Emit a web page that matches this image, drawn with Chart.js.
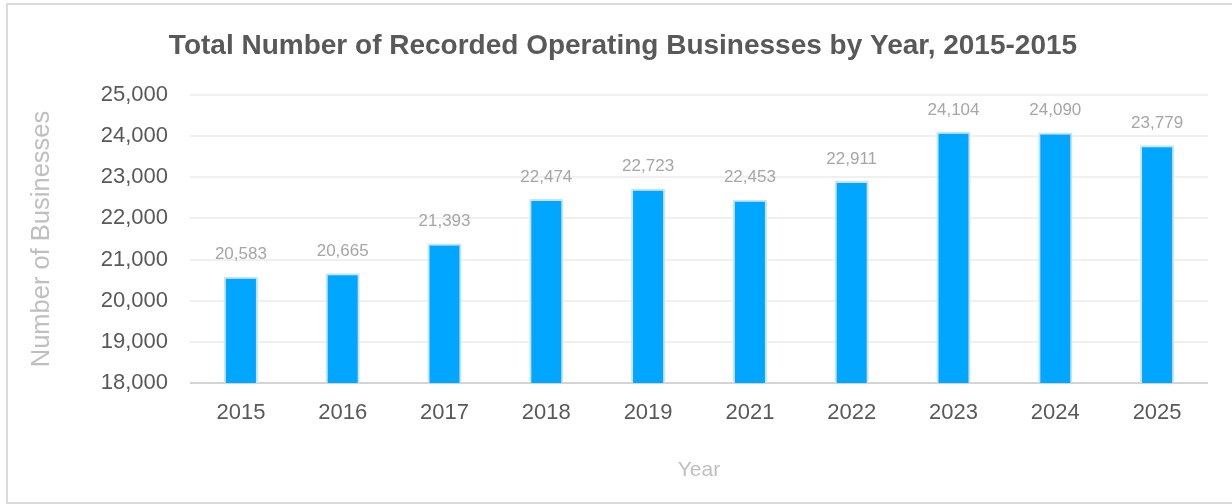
<!DOCTYPE html>
<html>
<head>
<meta charset="utf-8">
<script src="https://cdn.jsdelivr.net/npm/chart.js@4.4.1/dist/chart.umd.min.js"></script>
<style>
  html, body { margin: 0; padding: 0; background: #ffffff; overflow: hidden; }
  body { width: 1232px; height: 504px; position: relative; }
  #wrap { position: absolute; left: 0; top: 0; width: 1232px; height: 504px; }
  #frame { position: absolute; left: 6px; top: 3px; width: 1240px; height: 501px;
           border: 2px solid #dadada; border-right: none; box-sizing: border-box; pointer-events: none; }
</style>
</head>
<body>
<div id="wrap"><canvas id="c" width="1232" height="504"></canvas></div>
<div id="frame"></div>
<script>
const chartTitle = "Total Number of Recorded Operating Businesses by Year, 2015-2015";
const xTitle = "Year";
const yTitle = "Number of Businesses";
const years = ["2015", "2016", "2017", "2018", "2019", "2021", "2022", "2023", "2024", "2025"];
const businesses = [20583, 20665, 21393, 22474, 22723, 22453, 22911, 24104, 24090, 23779];
const yMin = 18000;
const yMax = 25000;
const yStep = 1000;

const FONT = "'Liberation Sans', Arial, sans-serif";
const fmt = v => Number(v).toLocaleString('en-US');

const titlePlugin = {
  id: 'customTitle',
  afterDraw(chart) {
    const ctx = chart.ctx;
    ctx.save();
    ctx.font = "bold 28px " + FONT;
    ctx.fillStyle = '#595959';
    ctx.textAlign = 'center';
    ctx.textBaseline = 'middle';
    ctx.fillText(chartTitle, 623, 46);
    ctx.restore();
  }
};

const labelPlugin = {
  id: 'barLabels',
  afterDatasetsDraw(chart) {
    const ctx = chart.ctx;
    const meta = chart.getDatasetMeta(0);
    ctx.save();
    ctx.font = "17px " + FONT;
    ctx.fillStyle = '#a6a6a6';
    ctx.textAlign = 'center';
    ctx.textBaseline = 'middle';
    meta.data.forEach((bar, i) => {
      ctx.fillText(fmt(businesses[i]), bar.x, bar.y - 22);
    });
    ctx.restore();
  }
};

new Chart(document.getElementById('c'), {
  type: 'bar',
  data: {
    labels: years,
    datasets: [{
      data: businesses,
      backgroundColor: '#00a6ff',
      borderColor: '#c8e4fa',
      borderWidth: 2,
      borderSkipped: 'start',
      categoryPercentage: 1.0,
      barPercentage: 0.335
    }]
  },
  options: {
    responsive: false,
    animation: false,
    devicePixelRatio: 1,
    layout: { padding: { left: 0, right: 24, top: 95, bottom: 0 } },
    plugins: {
      legend: { display: false },
      title: { display: false },
      tooltip: { enabled: false }
    },
    scales: {
      x: {
        grid: { display: false, drawTicks: false },
        border: { display: false },
        ticks: { color: '#595959', font: { family: FONT, size: 22 }, padding: 17, maxRotation: 0 },
        title: { display: true, text: xTitle, color: '#bfbfbf',
                 font: { family: FONT, size: 21 }, padding: { top: 0, bottom: 21 } },
        afterFit(scale) { scale.height = 121; }
      },
      y: {
        min: yMin, max: yMax,
        grid: {
          drawTicks: false,
          color: ctx => ctx.tick && ctx.tick.value === yMin ? '#d4d4d4' : '#f0f0f0',
          lineWidth: 2
        },
        border: { display: false },
        ticks: { stepSize: yStep, color: '#595959', font: { family: FONT, size: 22 }, padding: 22,
                 callback: v => fmt(v) },
        title: { display: true, text: yTitle, color: '#bfbfbf',
                 font: { family: FONT, size: 25.5 }, padding: { top: 27, bottom: 0 } },
        afterFit(scale) { scale.width = 190; }
      }
    }
  },
  plugins: [titlePlugin, labelPlugin]
});
</script>
</body>
</html>
